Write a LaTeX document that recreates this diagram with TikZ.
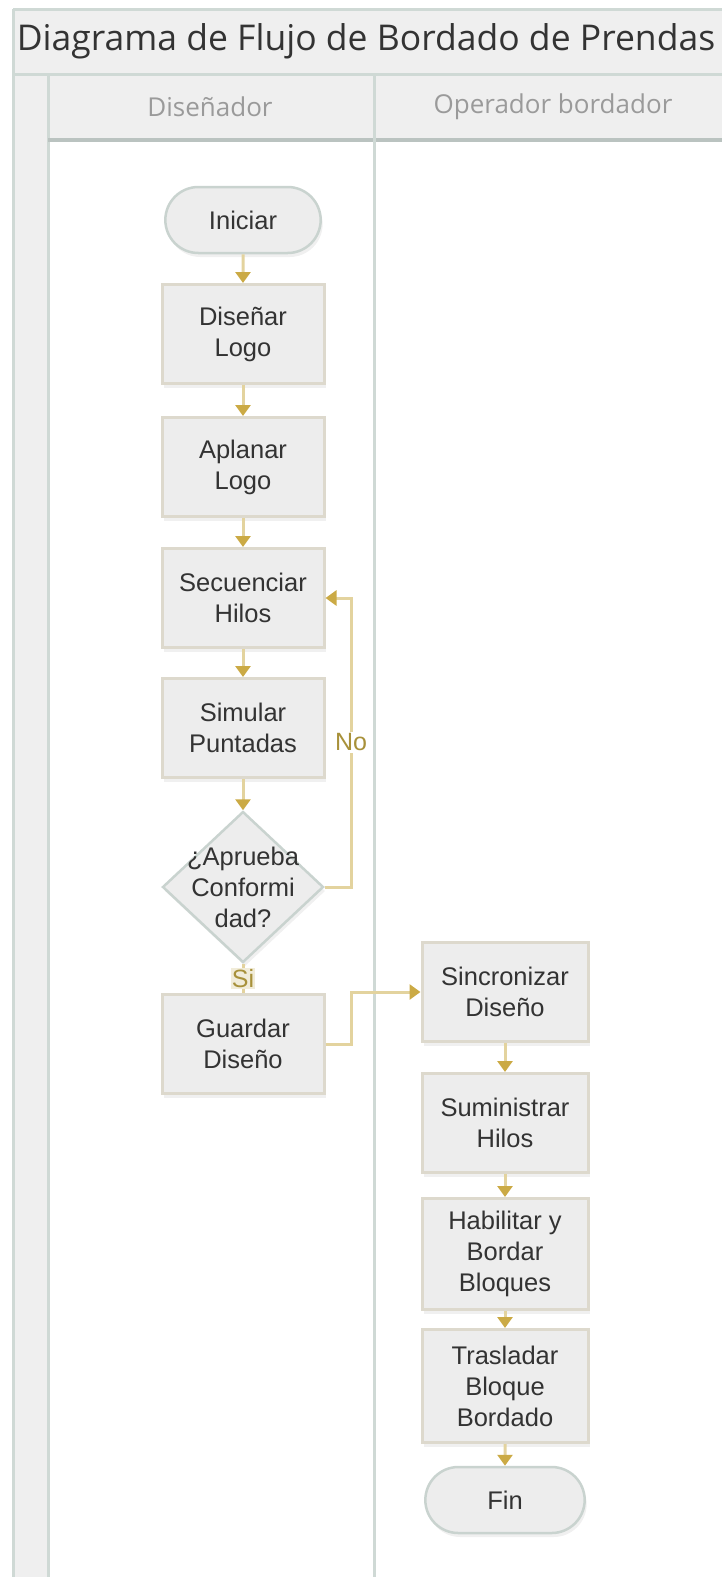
\documentclass[tikz,border=0pt]{standalone}
\usepackage{fontspec}
\setmainfont{Liberation Sans}
\newfontfamily\headfont{Open Sans}
\usetikzlibrary{shapes.geometric,shapes.misc,arrows.meta,shadows}

\definecolor{lanegray}{HTML}{CFD9D5}
\definecolor{bandfill}{HTML}{EFEFEF}
\definecolor{boxline}{HTML}{DDD9CD}
\definecolor{termline}{HTML}{C9D3CF}
\definecolor{boxfill}{HTML}{EDEDED}
\definecolor{linkgold}{HTML}{E3D39E}
\definecolor{tipgold}{HTML}{CBAA45}
\definecolor{textgray}{HTML}{333333}
\definecolor{headgray}{HTML}{9A9A9A}
\definecolor{labelgold}{HTML}{A8913A}
\definecolor{labelfill}{HTML}{F1ECD9}

\begin{document}
\begin{tikzpicture}[x=1pt,y=-1pt]
        \tikzstyle{lane_style} = [draw=lanegray, line width=3pt]
        \tikzstyle{box_style} = [rectangle, draw=boxline, line width=3pt, fill=boxfill, minimum width=162pt, minimum height=99pt, align=center, text=textgray, font=\fontsize{25.5}{31}\selectfont, drop shadow={opacity=0.12, shadow xshift=2pt, shadow yshift=-4pt}]
        \tikzstyle{term_style} = [box_style, rounded rectangle, draw=termline, line width=2.5pt, minimum height=66pt]
        \tikzstyle{decision_style} = [diamond, draw=termline, line width=2.5pt, fill=boxfill, minimum width=161pt, minimum height=151pt, inner sep=0pt, drop shadow={opacity=0.12, shadow xshift=2pt, shadow yshift=-4pt}]
        \tikzstyle{arrow_style} = [-{Triangle[length=11pt, width=15pt, color=tipgold]}, linkgold, line width=3pt]
        \tikzstyle{label_style} = [fill=white, text=labelgold, inner sep=2pt, font=\fontsize{25}{30}\selectfont]

        \useasboundingbox (0,0) rectangle (721,1577);

        % Swimlane frame with its title and the two lanes
        \fill[bandfill] (13,9) rectangle (740,74);
        \fill[bandfill] (48,74) rectangle (740,140);
        \fill[bandfill] (13,74) rectangle (48,1590);
        \draw[lane_style] (13,9) -- (740,9);
        \draw[lane_style] (13,9) -- (13,1590);
        \draw[lane_style] (13,74) -- (740,74);
        \draw[lane_style] (48,74) -- (48,1590);
        \draw[lane_style, line width=4pt, draw=lanegray!90!black] (48,140) -- (740,140);
        \draw[lane_style] (374,74) -- (374,1590);

        \node[text=textgray, font=\headfont\fontsize{35.5}{42}\selectfont] (title) at (366,41) {Diagrama de Flujo de Bordado de Prendas};
        \node[text=headgray, font=\headfont\fontsize{26}{31}\selectfont] (lane1) at (210,107) {Diseñador};
        \node[text=headgray, font=\headfont\fontsize{26}{31}\selectfont] (lane2) at (553,107) {Operador bordador};

        % First lane: the designer
        \node[term_style] (iniciar) at (243,220) {Iniciar};
        \node[box_style] (disenar) at (243,334) {Diseñar\\Logo};
        \node[box_style] (aplanar) at (243,467) {Aplanar\\Logo};
        \node[box_style] (secuenciar) at (243,598) {Secuenciar\\Hilos};
        \node[box_style] (simular) at (243,728) {Simular\\Puntadas};
        \node[decision_style] (aprueba) at (243,887) {};
        \node[align=center, text=textgray, font=\fontsize{25.5}{31}\selectfont] (aprueba_text) at (aprueba) {¿Aprueba\\Conformi\\dad?};
        \node[box_style] (guardar) at (243,1044) {Guardar\\Diseño};

        % Second lane: the embroidery operator
        \node[box_style, minimum width=166pt] (sincronizar) at (505,992) {Sincronizar\\Diseño};
        \node[box_style, minimum width=166pt] (suministrar) at (505,1123) {Suministrar\\Hilos};
        \node[box_style, minimum width=166pt, minimum height=111pt] (habilitar) at (505,1254) {Habilitar y\\Bordar\\Bloques};
        \node[box_style, minimum width=166pt, minimum height=113pt] (trasladar) at (505,1386) {Trasladar\\Bloque\\Bordado};
        \node[term_style, minimum width=166pt] (fin) at (505,1500) {Fin};

        \coordinate (no_turn) at (351,887);
        \coordinate (sync_turn) at (351,1044);

        \draw[arrow_style] (iniciar) -- (disenar);
        \draw[arrow_style] (disenar) -- (aplanar);
        \draw[arrow_style] (aplanar) -- (secuenciar);
        \draw[arrow_style] (secuenciar) -- (simular);
        \draw[arrow_style] (simular) -- (aprueba);
        \draw[arrow_style] (aprueba.east) -- (no_turn) |- (secuenciar.east) node[label_style, pos=0.25] {No};
        \draw[linkgold, line width=3pt] (aprueba.south) -- (guardar.north) node[label_style, fill=labelfill, midway, inner sep=1pt] {Si};
        \draw[arrow_style] (guardar.east) -- (sync_turn) |- (sincronizar.west);

        \draw[arrow_style] (sincronizar) -- (suministrar);
        \draw[arrow_style] (suministrar) -- (habilitar);
        \draw[arrow_style] (habilitar) -- (trasladar);
        \draw[arrow_style] (trasladar) -- (fin);
    \end{tikzpicture}
\end{document}
